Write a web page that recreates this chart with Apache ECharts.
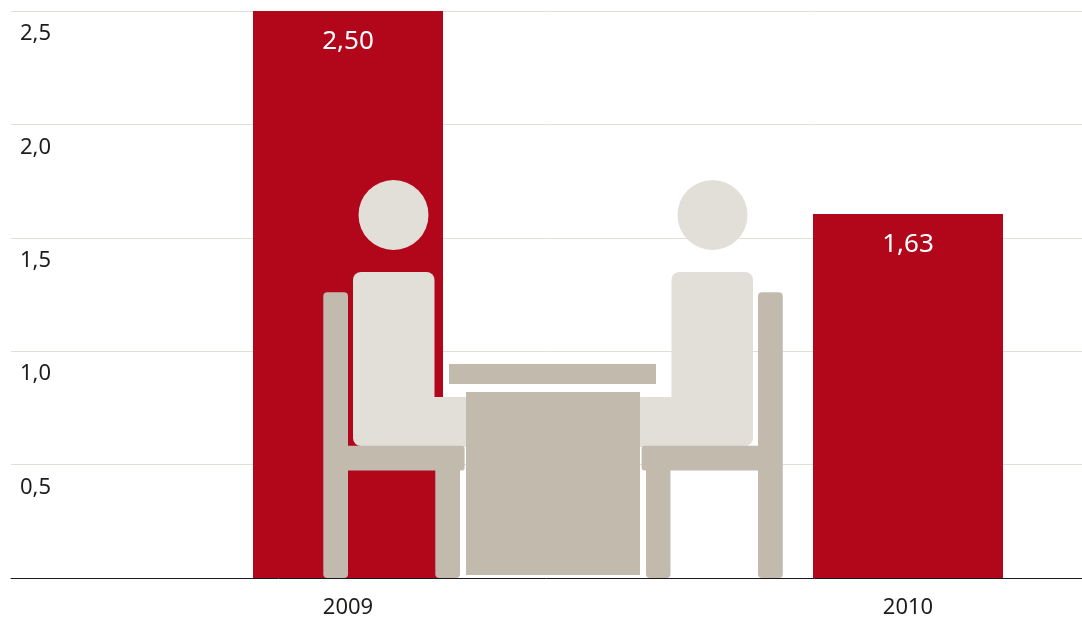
<!DOCTYPE html>
<html><head><meta charset="utf-8">
<style>html,body{margin:0;padding:0;background:#fff}#c{width:1082px;height:619px}</style>
<script src="https://cdn.jsdelivr.net/npm/echarts@6/dist/echarts.min.js"></script>
</head><body><div id="c"></div>
<script>
const years = [2009, 2010];
const barHeights = [2.50, 1.605];
const barLabels = ['2,50', '1,63'];
const yTicks = [0.5, 1.0, 1.5, 2.0, 2.5];
const FONT = 'Noto Sans';
const RED = '#B2071B', CHAIR = '#C3BAAE', BODY = '#E2DED8', INK = '#1D1D1B', GRID = '#E2DFD9';

function rect(x0, y0, x1, y1, fill, r) {
  return { type: 'rect', shape: { x: x0, y: y0, width: x1 - x0, height: y1 - y0, r: r || 0 }, style: { fill }, silent: true };
}
function circle(cx, cy, r, fill) {
  return { type: 'circle', shape: { cx, cy, r }, style: { fill }, silent: true };
}
const decor = [
  // left person
  circle(393.5, 215, 35, BODY),
  rect(353, 272, 434.5, 446, BODY, 8),
  rect(425, 397, 467, 447, BODY),
  // left chair
  rect(323.3, 292.3, 348, 578, CHAIR, 4),
  rect(435.3, 462, 460, 578, CHAIR, 4),
  rect(340, 445.8, 464.6, 470.5, CHAIR, 3),
  // table
  rect(449, 364, 656, 384, CHAIR),
  rect(466, 392, 640, 575, CHAIR),
  // right person
  circle(712.5, 215, 35, BODY),
  rect(671.5, 272, 753, 446, BODY, 8),
  rect(640, 397, 681, 447, BODY),
  // right chair
  rect(758, 292.3, 782.8, 578, CHAIR, 4),
  rect(646, 462, 670.5, 578, CHAIR, 4),
  rect(641.6, 445.8, 766, 470.5, CHAIR, 3)
];

const chart = echarts.init(document.getElementById('c'), null, { renderer: 'canvas' });
chart.setOption({
  animation: false,
  backgroundColor: '#fff',
  grid: { left: 11, right: 0, top: 11, bottom: 41 },
  xAxis: {
    type: 'value',
    min: 2009 - 337 / 560,
    max: 2010 + 174 / 560,
    splitLine: { show: false },
    axisTick: { show: false },
    axisLine: { show: true, onZero: false, lineStyle: { color: '#1a1a1a', width: 1 } },
    axisLabel: {
      customValues: years,
      margin: 19,
      color: INK,
      fontFamily: FONT,
      fontSize: 22,
      formatter: v => String(v),
      showMinLabel: true,
      showMaxLabel: true
    }
  },
  yAxis: {
    type: 'value',
    min: 0,
    max: 2.5,
    interval: 0.5,
    axisLine: { show: false },
    axisTick: { show: false },
    splitLine: { show: true, lineStyle: { color: GRID, width: 1 } },
    axisLabel: {
      inside: true,
      margin: 40,
      align: 'right',
      verticalAlign: 'top',
      padding: [12, 0, 0, 0],
      color: INK,
      fontFamily: FONT,
      fontSize: 22,
      formatter: v => yTicks.includes(v) ? v.toFixed(1).replace('.', ',') : ''
    }
  },
  series: [{
    type: 'bar',
    barWidth: 190,
    data: years.map((y, i) => [y, barHeights[i]]),
    itemStyle: { color: RED },
    label: {
      show: true,
      position: 'insideTop',
      distance: 18,
      color: '#fff',
      fontFamily: FONT,
      fontSize: 26,
      formatter: p => barLabels[p.dataIndex]
    }
  }],
  graphic: { elements: decor.map(d => Object.assign({ z: 100 }, d)) }
});
</script></body></html>
